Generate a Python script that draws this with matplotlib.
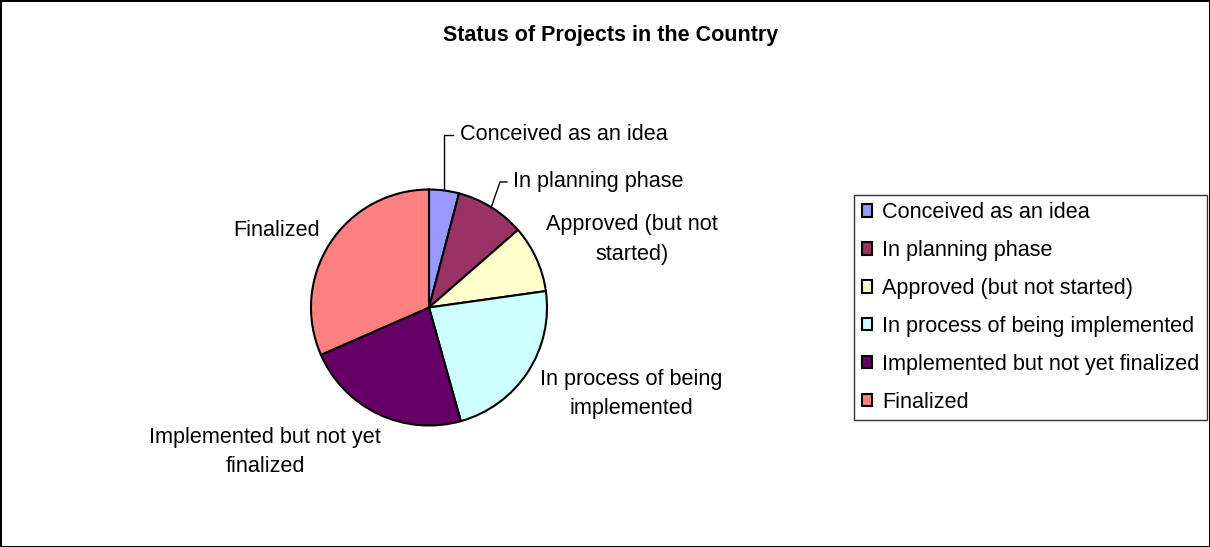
import numpy as np
import matplotlib.pyplot as plt
from matplotlib.patches import Patch

plt.rcParams['font.family'] = ['Liberation Sans', 'DejaVu Sans']

# Chart data
title = 'Status of Projects in the Country'
categories = ['Conceived as an idea', 'In planning phase', 'Approved (but not started)',
              'In process of being implemented', 'Implemented but not yet finalized',
              'Finalized']
pie_labels = ['Conceived as an idea', 'In planning phase', 'Approved (but not\nstarted)',
              'In process of being\nimplemented', 'Implemented but not yet\nfinalized',
              'Finalized']
values = [4.1, 9.5, 9.2, 22.9, 22.8, 31.6]
colors = ['#9999FF', '#993366', '#FFFFCC', '#CCFFFF', '#660066', '#FF8080']

W, H = 1210, 547
fig = plt.figure(figsize=(W / 100, H / 100), dpi=100)
fig.patch.set_edgecolor('black')
fig.patch.set_linewidth(2)

# axes in pixel units, y going up
ax = fig.add_axes([0, 0, 1, 1])
cx, cy, r = 429, H - 307.5, 118
wedges, _ = ax.pie(values, colors=colors, startangle=90, counterclock=False,
                   center=(cx, cy), radius=r,
                   wedgeprops=dict(edgecolor='black', linewidth=1.5))
ax.set_xlim(0, W)
ax.set_ylim(0, H)
ax.set_aspect('equal')
ax.axis('off')

fig.text(611 / W, 1 - 35 / H, title, ha='center', va='center', fontsize=15.5, fontweight='bold')

# label positions (pixel coords from top-left), alignment
label_pos = [(460, 135, 'left'), (513, 181, 'left'), (632, 239.5, 'center'),
             (631, 394, 'center'), (265, 452, 'center'), (277, 231, 'center')]
for w, lab, (lx, ly, ha) in zip(wedges, pie_labels, label_pos):
    ax.text(lx, H - ly, lab, ha=ha, va='center', fontsize=15.6, linespacing=1.55)

# leader lines for the two small slices
def edge_point(w):
    ang = np.deg2rad((w.theta1 + w.theta2) / 2)
    return cx + r * np.cos(ang), cy + r * np.sin(ang)

ex, ey = edge_point(wedges[0])
ax.plot([ex, ex, ex + 9], [ey, H - 135, H - 135], color='black', lw=1)
ex, ey = edge_point(wedges[1])
ax.plot([ex, 500, 507], [ey, H - 182, H - 182], color='black', lw=1)

handles = [Patch(facecolor=c, edgecolor='black', linewidth=1.5) for c in colors]
leg = fig.legend(handles, categories, loc='center left',
                 bbox_to_anchor=(854 / W, 1 - 307.5 / H), fontsize=15.6,
                 frameon=True, fancybox=False, edgecolor='black',
                 handlelength=0.5, handleheight=0.5, handletextpad=0.45,
                 labelspacing=0.78, borderpad=0.35, borderaxespad=0)
leg.get_frame().set_linewidth(1)

fig.savefig('out.png', dpi=100)
